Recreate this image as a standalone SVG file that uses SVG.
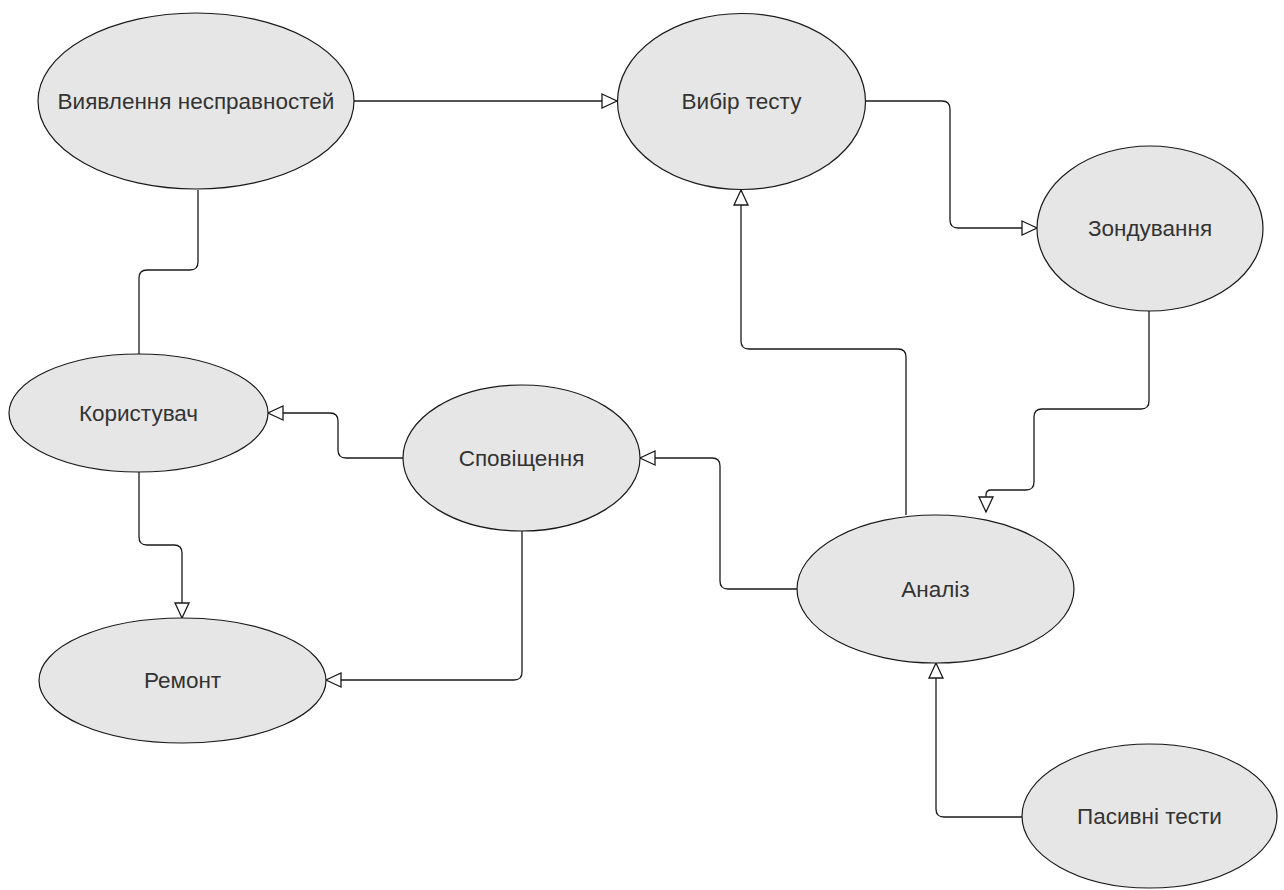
<svg xmlns="http://www.w3.org/2000/svg" width="1284" height="890" viewBox="0 0 1284 890">
<style>
.node ellipse{fill:#e6e6e6;stroke:#1a1a1a;stroke-width:1.2}
.node text{font-family:"Liberation Sans",Arial,sans-serif;font-size:22.5px;fill:#333;text-anchor:middle}
.conn path{fill:none;stroke:#1a1a1a;stroke-width:1.3}
.arr{marker-end:url(#open)}
</style>
<defs>
<marker id="open" markerUnits="userSpaceOnUse" markerWidth="20" markerHeight="20" viewBox="0 0 20 20" refX="16" refY="8" orient="auto">
<path d="M1,1 L16,8 L1,15 Z" fill="#fff" stroke="#1a1a1a" stroke-width="1.3"/>
</marker>
</defs>
<rect width="1284" height="890" fill="#fff"/>
<g class="conn">
<path d="M198,190 V262 Q198,270 190,270 H147 Q139,270 139,278 V354"/>
<path class="arr" d="M354,101 H617"/>
<path class="arr" d="M866,101 H942 Q950,101 950,109 V220 Q950,228 958,228 H1037"/>
<path class="arr" d="M1149,311 V401 Q1149,409 1141,409 H1042 Q1034,409 1034,417 V482 Q1034,490 1026,490 H991 Q986,490 986,495 V512"/>
<path class="arr" d="M906,515 V357 Q906,349 898,349 H749 Q741,349 741,341 V190"/>
<path class="arr" d="M797,589 H728 Q720,589 720,581 V466 Q720,458 712,458 H640"/>
<path class="arr" d="M403,458 H346 Q338,458 338,450 V421 Q338,413 330,413 H268"/>
<path class="arr" d="M522,531 V672 Q522,680 514,680 H326"/>
<path class="arr" d="M139,472 V537 Q139,545 147,545 H174 Q182,545 182,553 V618"/>
<path class="arr" d="M1022,817 H944 Q936,817 936,809 V663"/>
</g>
<g id="n-vyyavlennya" class="node"><ellipse cx="196" cy="101" rx="158" ry="88"/><text x="196" y="109">Виявлення несправностей</text></g>
<g id="n-vybir" class="node"><ellipse cx="741.5" cy="101.5" rx="124" ry="88"/><text x="741.5" y="109">Вибір тесту</text></g>
<g id="n-zonduvannya" class="node"><ellipse cx="1150" cy="228.5" rx="113" ry="82.5"/><text x="1150" y="236">Зондування</text></g>
<g id="n-korystuvach" class="node"><ellipse cx="138.5" cy="413" rx="129.5" ry="59"/><text x="138.5" y="421">Користувач</text></g>
<g id="n-spovishchennya" class="node"><ellipse cx="521.5" cy="458" rx="118.5" ry="73"/><text x="521.5" y="466">Сповіщення</text></g>
<g id="n-analiz" class="node"><ellipse cx="935.5" cy="589" rx="138.5" ry="74"/><text x="935.5" y="597">Аналіз</text></g>
<g id="n-remont" class="node"><ellipse cx="182.5" cy="680.5" rx="143.5" ry="62.5"/><text x="182.5" y="688">Ремонт</text></g>
<g id="n-pasyvni" class="node"><ellipse cx="1149.5" cy="816" rx="127.5" ry="72"/><text x="1149.5" y="824">Пасивні тести</text></g>
</svg>
